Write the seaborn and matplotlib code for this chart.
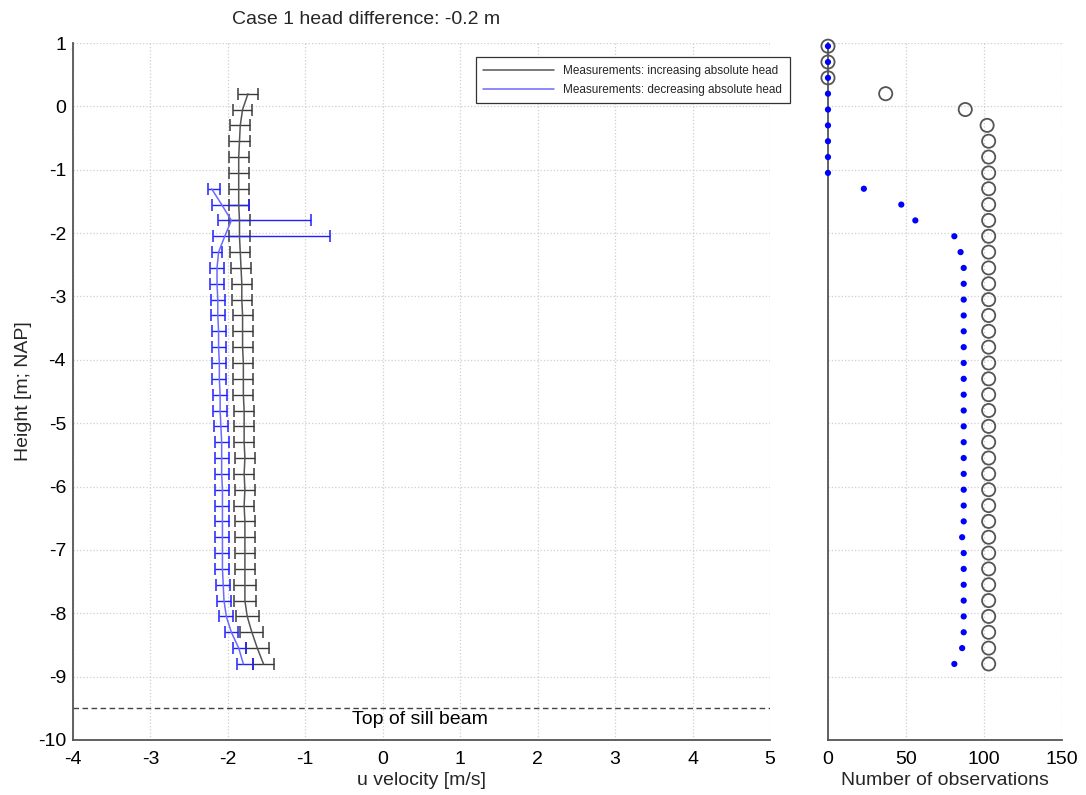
import numpy as np
import pandas as pd
import matplotlib
matplotlib.use("Agg")
import matplotlib.pyplot as plt
import seaborn as sns

# ---- data -------------------------------------------------------------
# measurement levels [m; NAP]
heights = [0.95, 0.70, 0.45, 0.20, -0.05, -0.30, -0.55, -0.80, -1.05, -1.30,
           -1.55, -1.80, -2.05, -2.30, -2.55, -2.80, -3.05, -3.30, -3.55, -3.80,
           -4.05, -4.30, -4.55, -4.80, -5.05, -5.30, -5.55, -5.80, -6.05, -6.30,
           -6.55, -6.80, -7.05, -7.30, -7.55, -7.80, -8.05, -8.30, -8.55, -8.80]

# increasing absolute head: mean u and spread (levels 0.20 .. -8.80)
inc_heights = heights[3:]
inc_mean = [-1.74, -1.81, -1.84, -1.85, -1.86, -1.86, -1.86, -1.86, -1.85, -1.85,
            -1.84, -1.83, -1.82, -1.82, -1.81, -1.81, -1.81, -1.80, -1.80, -1.80,
            -1.79, -1.79, -1.79, -1.78, -1.79, -1.78, -1.79, -1.78, -1.78, -1.78,
            -1.78, -1.78, -1.78, -1.75, -1.69, -1.62, -1.54]
inc_err = [0.135, 0.12, 0.13, 0.13, 0.13, 0.13, 0.13, 0.13, 0.13, 0.13,
           0.13, 0.13, 0.13, 0.13, 0.13, 0.13, 0.13, 0.13, 0.13, 0.13,
           0.13, 0.13, 0.13, 0.13, 0.13, 0.13, 0.13, 0.13, 0.13, 0.13,
           0.13, 0.14, 0.14, 0.15, 0.15, 0.15, 0.14]
inc_profile = inc_mean

# decreasing absolute head (levels -1.30 .. -8.80)
dec_heights = heights[9:]
dec_mean = [-2.18, -1.97, -1.53, -1.435, -2.145, -2.14, -2.14, -2.13, -2.13, -2.12,
            -2.12, -2.11, -2.11, -2.10, -2.10, -2.09, -2.08, -2.08, -2.08, -2.07,
            -2.07, -2.07, -2.07, -2.07, -2.07, -2.06, -2.05, -2.02, -1.955, -1.85,
            -1.78]
dec_err = [0.08, 0.24, 0.60, 0.755, 0.065, 0.09, 0.09, 0.09, 0.09, 0.09,
           0.09, 0.09, 0.09, 0.09, 0.09, 0.09, 0.09, 0.09, 0.09, 0.09,
           0.09, 0.09, 0.09, 0.09, 0.09, 0.09, 0.09, 0.09, 0.085, 0.09,
           0.10]
dec_profile = [-2.21, -2.08, -1.955, -2.04, -2.12, -2.14, -2.14, -2.13, -2.13, -2.12,
               -2.12, -2.11, -2.11, -2.10, -2.10, -2.09, -2.08, -2.08, -2.08, -2.07,
               -2.07, -2.07, -2.07, -2.07, -2.07, -2.06, -2.05, -2.02, -1.955, -1.86,
               -1.80]

# number of observations per level
n_increasing = [0, 0, 0, 37, 88, 102, 103, 103, 103, 103,
                103, 103, 103, 103, 103, 103, 103, 103, 103, 103,
                103, 103, 103, 103, 103, 103, 103, 103, 103, 103,
                103, 103, 103, 103, 103, 103, 103, 103, 103, 103]
n_decreasing = [0, 0, 0, 0, 0, 0, 0, 0, 0, 23,
                47, 56, 81, 85, 87, 87, 87, 87, 87, 87,
                87, 87, 87, 87, 87, 87, 87, 87, 87, 87,
                87, 86, 87, 87, 87, 87, 87, 87, 86, 81]

sill_level = -9.5
title_text = "Case 1 head difference: -0.2 m"
legend_labels = ["Measurements: increasing absolute head",
                 "Measurements: decreasing absolute head"]

# ---- style ------------------------------------------------------------
sns.set_theme(style="white")
plt.rcParams["font.family"] = ["Liberation Sans", "DejaVu Sans"]
plt.rcParams["axes.unicode_minus"] = False

SPINE = "#555555"
GRID = "#cfcfcf"
BLACK = "#111111"
BLUE = "#2020ff"
FS = 14

fig = plt.figure(figsize=(10.86, 7.95), dpi=100)
ax = fig.add_axes([0.0672, 0.0692, 0.6418, 0.8767])
ax2 = fig.add_axes([0.7624, 0.0692, 0.2155, 0.8767])


def style_axes(a):
    for side in ("top", "right"):
        a.spines[side].set_visible(False)
    for side in ("left", "bottom"):
        a.spines[side].set_color(SPINE)
        a.spines[side].set_linewidth(1.3)
    a.tick_params(direction="in", length=5, width=1.0, color=SPINE,
                  labelsize=FS, labelcolor="black")
    a.tick_params(axis="x", pad=8)
    a.tick_params(axis="y", pad=5)
    a.grid(True, color=GRID, linestyle=":", linewidth=0.9)
    a.set_axisbelow(True)
    a.set_ylim(-10, 1)
    a.set_yticks(range(-10, 2))


# ---- velocity profiles ---------------------------------------------------
style_axes(ax)
ax.set_xlim(-4, 5)
ax.set_xticks(range(-4, 6))

ax.errorbar(inc_mean, inc_heights, xerr=inc_err, fmt="none", ecolor="#3a3a3a",
            elinewidth=1.0, capsize=4.5, capthick=1.1, zorder=3)
ax.errorbar(dec_mean, dec_heights, xerr=dec_err, fmt="none", ecolor=BLUE,
            elinewidth=1.0, capsize=4.5, capthick=1.1, zorder=3)

inc_df = pd.DataFrame({"u": inc_profile, "z": inc_heights})
dec_df = pd.DataFrame({"u": dec_profile, "z": dec_heights})
sns.lineplot(data=inc_df, x="u", y="z", sort=False, orient="y", ax=ax,
             color=BLACK, linewidth=1.1, label=legend_labels[0], zorder=4)
sns.lineplot(data=dec_df, x="u", y="z", sort=False, orient="y", ax=ax,
             color=BLUE, linewidth=1.1, label=legend_labels[1], zorder=4)

ax.axhline(sill_level, color="#444444", linestyle=(0, (4, 2.5)), linewidth=1.0)
ax.text(-0.40, sill_level - 0.17, "Top of sill beam", fontsize=FS,
        ha="left", va="center", color="black")

ax.set_xlabel("u velocity [m/s]", fontsize=FS, labelpad=3)
ax.set_ylabel("Height [m; NAP]", fontsize=FS, labelpad=4)

handles, labels = ax.get_legend_handles_labels()
handles[0].set_color("#555555")
handles[1].set_color("#6a6aff")
leg = ax.legend(handles, labels, loc="upper right",
                bbox_to_anchor=(790 / 1086, 1 - 57 / 795),
                bbox_transform=fig.transFigure, fontsize=8.5, frameon=True,
                fancybox=False, handlelength=6.0, borderpad=0.65,
                labelspacing=0.6, handletextpad=0.8, borderaxespad=0)
leg.get_frame().set_edgecolor("#333333")
leg.get_frame().set_linewidth(0.9)
leg.get_frame().set_facecolor("white")
leg.get_frame().set_alpha(1.0)

fig.text(366 / 1086, 1 - 20 / 795, title_text, fontsize=FS,
         ha="center", va="center")

# ---- observation counts ------------------------------------------------
style_axes(ax2)
ax2.set_xlim(0, 150)
ax2.set_xticks([0, 50, 100, 150])
ax2.set_yticklabels([])

sns.scatterplot(x=n_increasing, y=heights, ax=ax2, marker="o", s=90,
                facecolor="none", edgecolor="#555555", linewidth=1.3,
                clip_on=False, zorder=3)
sns.scatterplot(x=n_decreasing, y=heights, ax=ax2, marker="o", s=20,
                color="#0000ff", edgecolor="none", linewidth=0,
                clip_on=False, zorder=4)
ax2.set_xlabel("Number of observations", fontsize=FS, labelpad=3)
ax2.set_ylabel("")

fig.savefig("out.png", dpi=100)
